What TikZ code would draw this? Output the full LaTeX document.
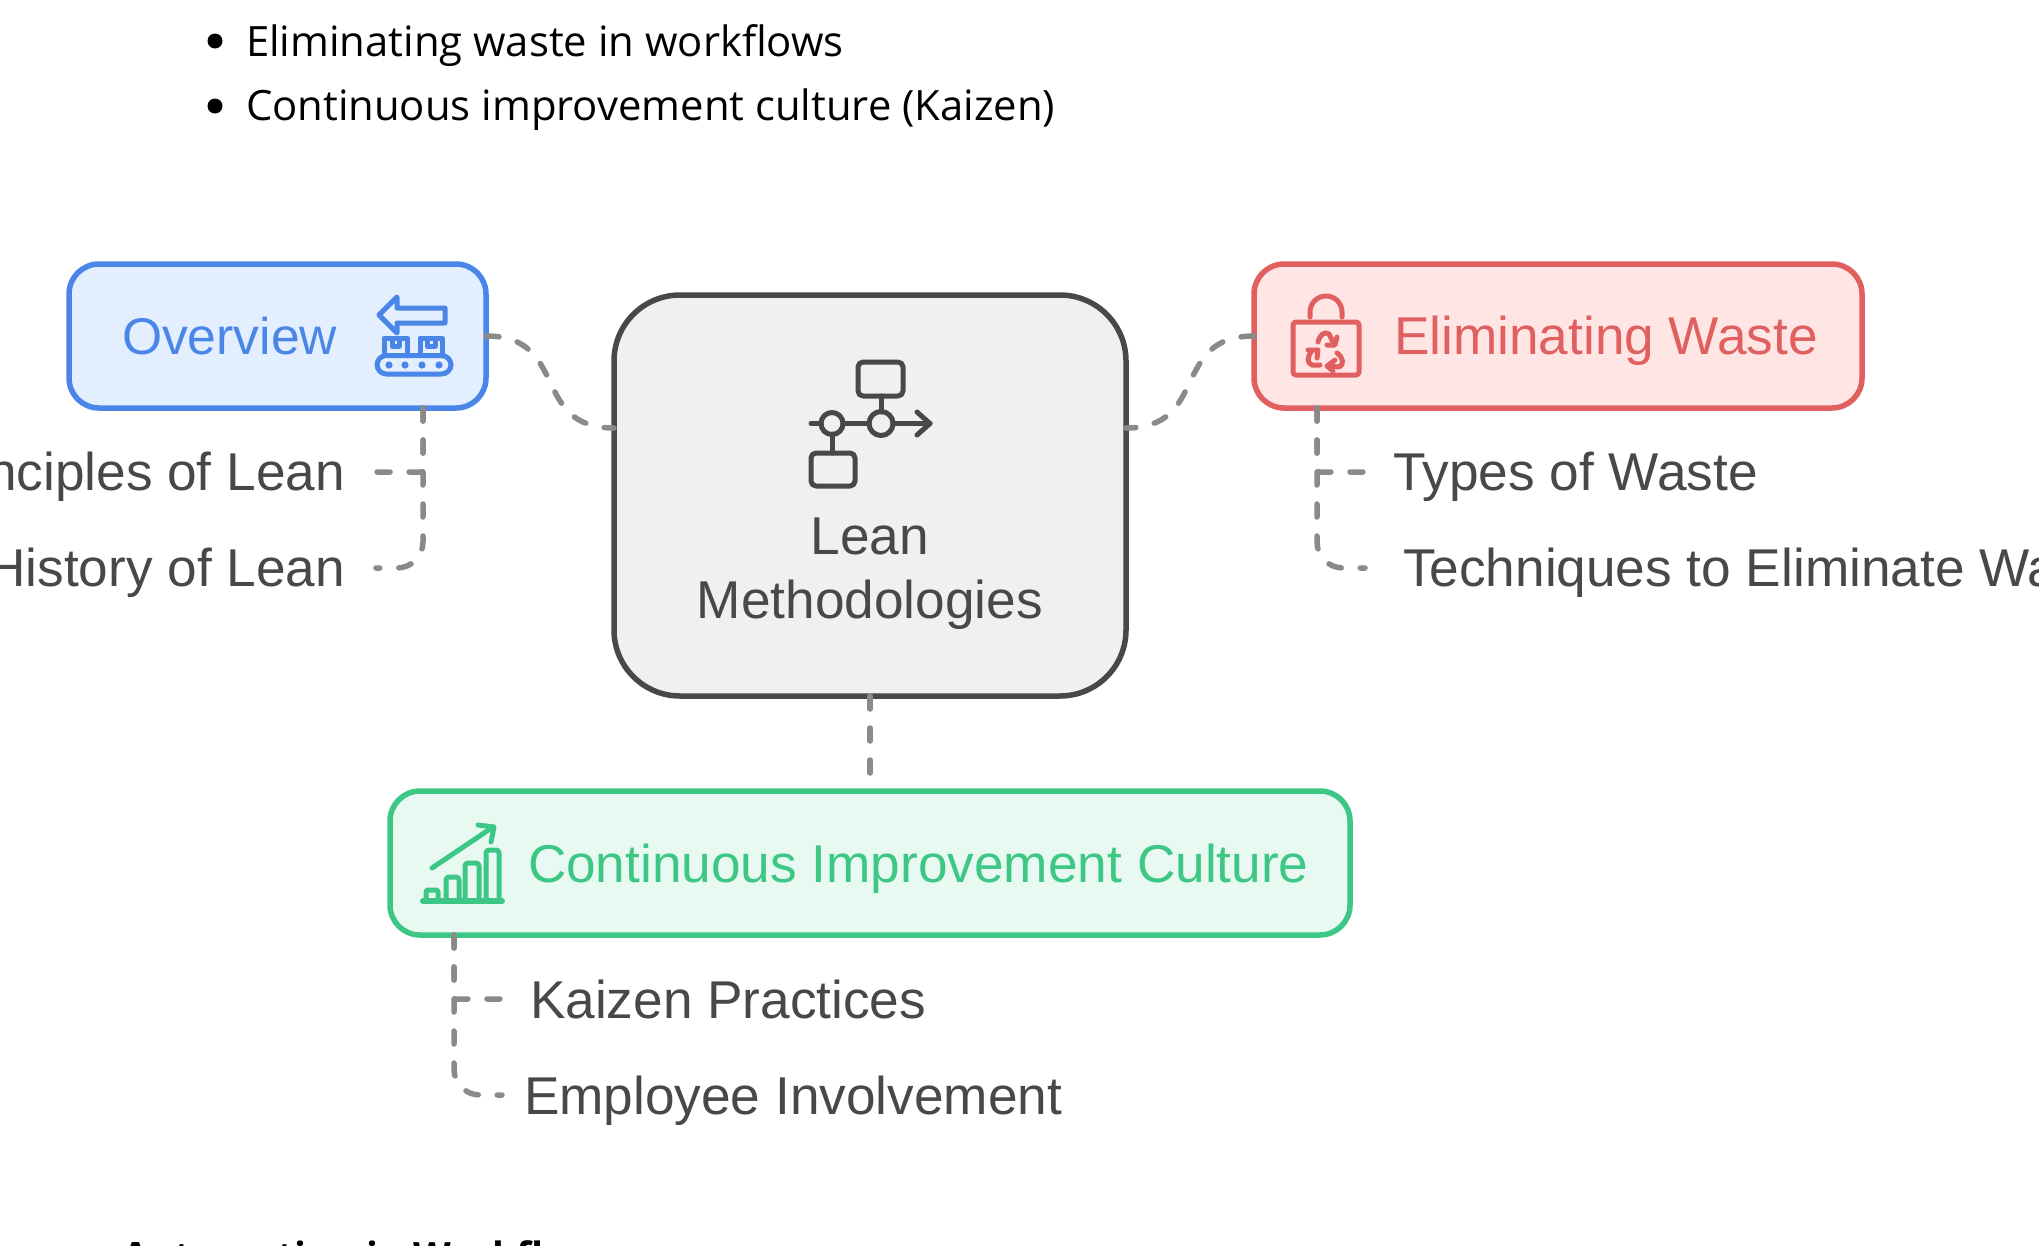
\documentclass[tikz,border=0pt]{standalone}
\usepackage{fontspec}
\setmainfont{Liberation Sans}
\newfontfamily\labelfont{Liberation Sans}
\newfontfamily\notefont{Open Sans}
\definecolor{inkc}{HTML}{484848}
\definecolor{dashc}{HTML}{8A8A8A}
\definecolor{bluec}{HTML}{4A86E8}
\definecolor{bluef}{HTML}{E3EEFF}
\definecolor{redc}{HTML}{E06060}
\definecolor{redf}{HTML}{FFE6E5}
\definecolor{greenc}{HTML}{3DC785}
\definecolor{greenf}{HTML}{E8F9F1}
\definecolor{grayf}{HTML}{F0F0F0}
\tikzset{
 boxbase/.style={draw,line width=5.5pt,rounded corners=30pt,outer sep=0pt,inner sep=0pt},
 lab/.style={inner sep=0pt,outer sep=0pt,text=inkc,font=\labelfont\fontsize{53.2}{60}\selectfont},
 note/.style={inner sep=0pt,outer sep=0pt,text=black,font=\notefont\fontsize{41.8}{46}\selectfont},
 conn/.style={draw=dashc,line width=5.5pt,line cap=round,dash pattern=on 13pt off 19pt},
 icon/.style={line width=5pt,line cap=round,line join=round},
}
\begin{document}
\begin{tikzpicture}[x=1pt,y=-1pt]
\useasboundingbox (0,0) rectangle (2039,1245);
\clip (0,0) rectangle (2039,1245);
% notes
\node[circle,fill=black,inner sep=0pt,minimum size=15pt] (b1) at (215,41) {};
\node[circle,fill=black,inner sep=0pt,minimum size=15pt] (b2) at (215,106) {};
\node[note,anchor=base west] (n1) at (246,56) {Eliminating waste in workflows};
\node[note,anchor=base west] (n2) at (246,120) {Continuous improvement culture (Kaizen)};
\node[note,anchor=base west,font=\notefont\bfseries\fontsize{39}{46}\selectfont] (n3) at (122,1270) {Automation in Workflows};
% boxes
\node[boxbase,draw=bluec,fill=bluef,minimum width=417pt,minimum height=144pt] (ov) at (277.5,336) {};
\node[boxbase,draw=redc,fill=redf,minimum width=608pt,minimum height=144pt] (el) at (1558,336) {};
\node[boxbase,draw=greenc,fill=greenf,minimum width=960pt,minimum height=144pt] (co) at (870,863) {};
\node[boxbase,draw=inkc,fill=grayf,rounded corners=66pt,minimum width=512pt,minimum height=401pt] (ce) at (870,495.5) {};
% box texts
\node[lab,text=bluec,anchor=base west,font=\labelfont\fontsize{51.6}{60}\selectfont] (ovt) at (122,354) {Overview};
\node[lab,text=redc,anchor=base west] (elt) at (1394,354) {Eliminating Waste};
\node[lab,text=greenc,anchor=base west] (cot) at (528,882) {Continuous Improvement Culture};
\node[lab,anchor=base] (ce1) at (870,554) {Lean};
\node[lab,anchor=base] (ce2) at (870,618) {Methodologies};
% leaves
\node[lab,anchor=base east] (l1) at (345,490) {Principles of Lean};
\node[lab,anchor=base east] (l2) at (345,586) {History of Lean};
\node[lab,anchor=base west] (r1) at (1393,490) {Types of Waste};
\node[lab,anchor=base west] (r2) at (1403,586) {Techniques to Eliminate Waste};
\node[lab,anchor=base west] (b1t) at (530,1018) {Kaizen Practices};
\node[lab,anchor=base west] (b2t) at (524,1114) {Employee Involvement};
% connector ends
\coordinate (ceL) at (614,428);
\coordinate (ceR) at (1126,428);
\coordinate (ovS) at (423,408);
\coordinate (l1e) at (375,472);
\coordinate (l2e) at (376,568);
\coordinate (elS) at (1317,408);
\coordinate (r1e) at (1367,472);
\coordinate (r2e) at (1365,568);
\coordinate (coS) at (454,935);
\coordinate (b1e) at (502,999);
\coordinate (b2e) at (502,1095);
\coordinate (coN) at (870,773);
% connectors
\draw[conn] (ov.east) .. controls (570,336) and (530,428) .. (ceL);
\draw[conn] (el.west) .. controls (1170,336) and (1210,428) .. (ceR);
\draw[conn] (ce.south) -- (coN);
\draw[conn,rounded corners=2pt] (ovS) |- (l1e);
\draw[conn,rounded corners=26pt] (ovS) |- (l2e);
\draw[conn,rounded corners=2pt] (elS) |- (r1e);
\draw[conn,rounded corners=26pt] (elS) |- (r2e);
\draw[conn,rounded corners=2pt] (coS) |- (b1e);
\draw[conn,rounded corners=26pt] (coS) |- (b2e);
% centre icon
\begin{scope}[icon,draw=inkc]
\draw[rounded corners=5pt] (858,362) rectangle (903,396);
\draw[rounded corners=5pt] (811,453) rectangle (855,486);
\draw (881,396) -- (881,412);
\draw (832,434) -- (832,453);
\draw (811,423.5) -- (821,423.5);
\draw (843,423.5) -- (869,423.5);
\draw (893,423.5) -- (930,423.5);
\draw (917,412) -- (930,423.5) -- (917,435);
\draw (832,423.5) circle (11);
\draw (881,423.5) circle (12);
\end{scope}
% overview icon
\begin{scope}[icon,draw=bluec]
\draw (397,297) -- (379,315) -- (397,333) -- (397,323) -- (445,323) -- (445,308) -- (397,308) -- cycle;
\draw (384,355) -- (384,338) -- (407,338) -- (407,355);
\draw (420,355) -- (420,338) -- (442,338) -- (442,355);
\draw (392,339) -- (392,346) -- (399,346) -- (399,339);
\draw (427,339) -- (427,346) -- (435,346) -- (435,339);
\draw[rounded corners=9.5pt] (377,355.5) rectangle (451,374);
\foreach \p in {389,405,422,439}{\fill[bluec] (\p,365) circle (3.6);}
\end{scope}
% waste icon
\begin{scope}[icon,draw=redc]
\draw[rounded corners=3pt] (1293,322) rectangle (1359,375);
\draw (1310,317) -- (1310,312) arc[start angle=180,end angle=360,radius=16] -- (1342,317);
\draw (1318,342) .. controls (1320,334) and (1325,331) .. (1329,334) -- (1334,344);
\draw (1337,337) -- (1335,345) -- (1327,345);
\draw (1320,365) -- (1312,365) .. controls (1307,363) and (1307,358) .. (1311,352);
\draw (1308,350) -- (1318,350) -- (1317,358);
\draw (1337,353) .. controls (1344,358) and (1344,365) .. (1339,367) -- (1328,366);
\draw (1335,360) -- (1327,366) -- (1333,371);
\end{scope}
% growth icon
\begin{scope}[icon,draw=greenc]
\draw[line width=6pt] (423,901) -- (502,901);
\draw[rounded corners=2pt] (426,901) -- (426,890) -- (438,890) -- (438,901);
\draw[rounded corners=3pt] (446,901) -- (446,877) -- (459,877) -- (459,901);
\draw[rounded corners=3pt] (465,901) -- (465,863) -- (479,863) -- (479,901);
\draw[rounded corners=3pt] (486,901) -- (486,850) -- (499,850) -- (499,901);
\draw (432,868) -- (493,827);
\draw (478,825) -- (494,827) -- (491,842);
\end{scope}
\end{tikzpicture}
\end{document}
